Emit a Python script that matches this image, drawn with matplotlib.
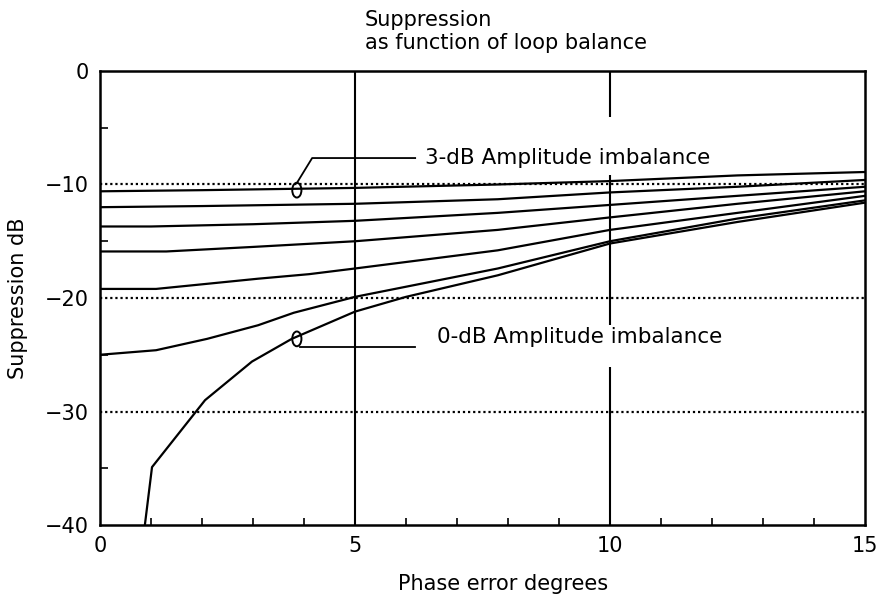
import numpy as np
import matplotlib
matplotlib.use('Agg')
import matplotlib.pyplot as plt
from matplotlib.patches import Ellipse

plt.rcParams['font.family'] = ['DejaVu Sans']

# phase error (deg) and suppression (dB) for each amplitude imbalance curve
x_3db = [0, 2, 5, 7.8, 10, 11, 12.5, 15]
y_3db = [-10.6, -10.5, -10.3, -10.0, -9.7, -9.5, -9.2, -8.9]
x_25db = [0, 2, 5, 7.8, 10, 12.5, 15]
y_25db = [-12.0, -11.9, -11.7, -11.3, -10.7, -10.2, -9.6]
x_2db = [0, 1, 3, 5, 7.8, 10, 12.5, 15]
y_2db = [-13.7, -13.7, -13.5, -13.2, -12.5, -11.8, -11.0, -10.2]
x_15db = [0, 1.3, 3, 5, 7.8, 10, 12.5, 15]
y_15db = [-15.9, -15.9, -15.5, -15.0, -14.0, -12.9, -11.7, -10.6]
x_1db = [0, 1.1, 3.1, 4.1, 5, 7.8, 10, 12.5, 15]
y_1db = [-19.2, -19.2, -18.3, -17.9, -17.4, -15.8, -14.0, -12.5, -11.0]
x_05db = [0, 1.1, 2.1, 3.1, 3.8, 5, 7.8, 10, 12.5, 15]
y_05db = [-25.0, -24.6, -23.6, -22.4, -21.3, -19.9, -17.4, -15.0, -13.0, -11.4]
x_0db = [0.88, 1.02, 2.06, 2.98, 3.76, 5, 6, 7.8, 10, 12.5, 15]
y_0db = [-40, -34.9, -29.0, -25.6, -23.6, -21.2, -19.9, -18.0, -15.2, -13.3, -11.6]

curves = [(x_3db, y_3db), (x_25db, y_25db), (x_2db, y_2db), (x_15db, y_15db),
          (x_1db, y_1db), (x_05db, y_05db), (x_0db, y_0db)]

fig = plt.figure(figsize=(8.81, 5.96), dpi=100)
ax = fig.add_axes([0.1135, 0.1191, 0.8683, 0.7618])

# dotted horizontal grid
for yv in [-10, -20, -30]:
    ax.axhline(yv, color='black', lw=1.6, ls=(0, (1, 1.3)), zorder=1)
# solid vertical grid, x=10 broken around the labels
ax.axvline(5, color='black', lw=1.5, zorder=1)
ax.vlines([10, 10, 10], [-40, -22.4, -4.05], [-26.1, -9.16, 0], color='black', lw=1.5, zorder=1)

for xs, ys in curves:
    ax.plot(xs, ys, color='black', lw=1.6, zorder=2)

# loop markers and leaders
for cy in [-10.5, -23.6]:
    ax.add_patch(Ellipse((3.86, cy), 0.18, 1.3, fill=False, ec='black', lw=1.4, zorder=3))
ax.plot([3.86, 4.16, 6.18], [-9.87, -7.67, -7.67], color='black', lw=1.3)
ax.plot([3.92, 6.18], [-24.3, -24.3], color='black', lw=1.3)
ax.text(6.37, -7.67, '3-dB Amplitude imbalance', fontsize=15.5, va='center', ha='left')
ax.text(6.61, -23.4, '0-dB Amplitude imbalance', fontsize=15.5, va='center', ha='left')

ax.set_xlim(0, 15)
ax.set_ylim(-40, 0)
ax.set_xticks([0, 5, 10, 15])
ax.set_yticks([0, -10, -20, -30, -40])
ax.tick_params(axis='both', which='major', length=0, labelsize=15, pad=8)
ax.set_xticks([i for i in range(1, 15) if i % 5], minor=True)
ax.set_yticks([-5, -15, -25, -35], minor=True)
ax.tick_params(axis='x', which='minor', direction='in', length=5, width=1.2)
ax.tick_params(axis='y', which='minor', direction='in', length=6, width=1.2)
for s in ax.spines.values():
    s.set_linewidth(1.8)

ax.set_xlabel('Phase error degrees', fontsize=15, va='center')
ax.xaxis.set_label_coords((503 - 100) / 765, -(584 - 525) / 454)
ax.set_ylabel('Suppression dB', fontsize=15, va='center')
ax.yaxis.set_label_coords(-(100 - 18) / 765, 0.5)
fig.text(365 / 881, 1 - 20 / 596, 'Suppression', fontsize=15, ha='left', va='center')
fig.text(365 / 881, 1 - 43 / 596, 'as function of loop balance', fontsize=15, ha='left', va='center')

fig.savefig('out.png', dpi=100)
